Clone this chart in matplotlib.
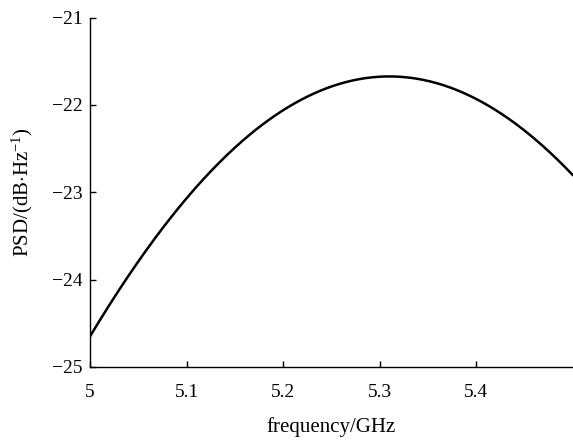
import matplotlib
matplotlib.use("Agg")
import matplotlib.pyplot as plt
import numpy as np

# values
freq_ghz = [5.0, 5.0293, 5.0638, 5.0983, 5.1328, 5.167, 5.2016, 5.236,
            5.2724, 5.3103, 5.3413, 5.3758, 5.4104, 5.4447, 5.4793, 5.4995]
psd_db = [-24.67, -24.12, -23.55, -23.09, -22.69, -22.34, -22.06, -21.85,
          -21.71, -21.66, -21.69, -21.81, -22.00, -22.27, -22.59, -22.78]

x_ticks = [5.0, 5.1, 5.2, 5.3, 5.4]
x_tick_labels = ["5", "5.1", "5.2", "5.3", "5.4"]
y_ticks = [-25, -24, -23, -22, -21]


def main():
    plt.rcParams["font.family"] = ["Liberation Serif", "DejaVu Serif"]
    plt.rcParams["mathtext.fontset"] = "custom"
    plt.rcParams["mathtext.rm"] = "Liberation Serif"
    plt.rcParams["mathtext.it"] = "Liberation Serif:italic"

    fig = plt.figure(figsize=(5.73, 4.41), dpi=100)
    ax = fig.add_axes([0.157, 0.168, 0.843, 0.792])

    # smooth through the read points
    coef = np.polyfit(freq_ghz, psd_db, 4)
    xs = np.linspace(freq_ghz[0], freq_ghz[-1], 300)
    ax.plot(xs, np.polyval(coef, xs), color="black", lw=1.8)

    ax.set_xlim(5.0, 5.5)
    ax.set_ylim(-25, -21)
    ax.set_xticks(x_ticks)
    ax.set_xticklabels(x_tick_labels)
    ax.set_yticks(y_ticks)
    ax.set_yticklabels(["\u2212%d" % abs(v) for v in y_ticks])

    for side in ("top", "right"):
        ax.spines[side].set_visible(False)
    for side in ("left", "bottom"):
        ax.spines[side].set_linewidth(1.0)

    ax.tick_params(direction="in", length=4, width=1.0, labelsize=14)
    ax.tick_params(axis="x", pad=12)
    ax.tick_params(axis="y", pad=5.5)

    ax.set_xlabel("frequency/GHz", fontsize=15, labelpad=12)
    ax.set_ylabel(r"PSD/(dB$\cdot$Hz$^{-1}$)", fontsize=15, labelpad=12)

    fig.savefig("out.png", dpi=100)


if __name__ == "__main__":
    main()
